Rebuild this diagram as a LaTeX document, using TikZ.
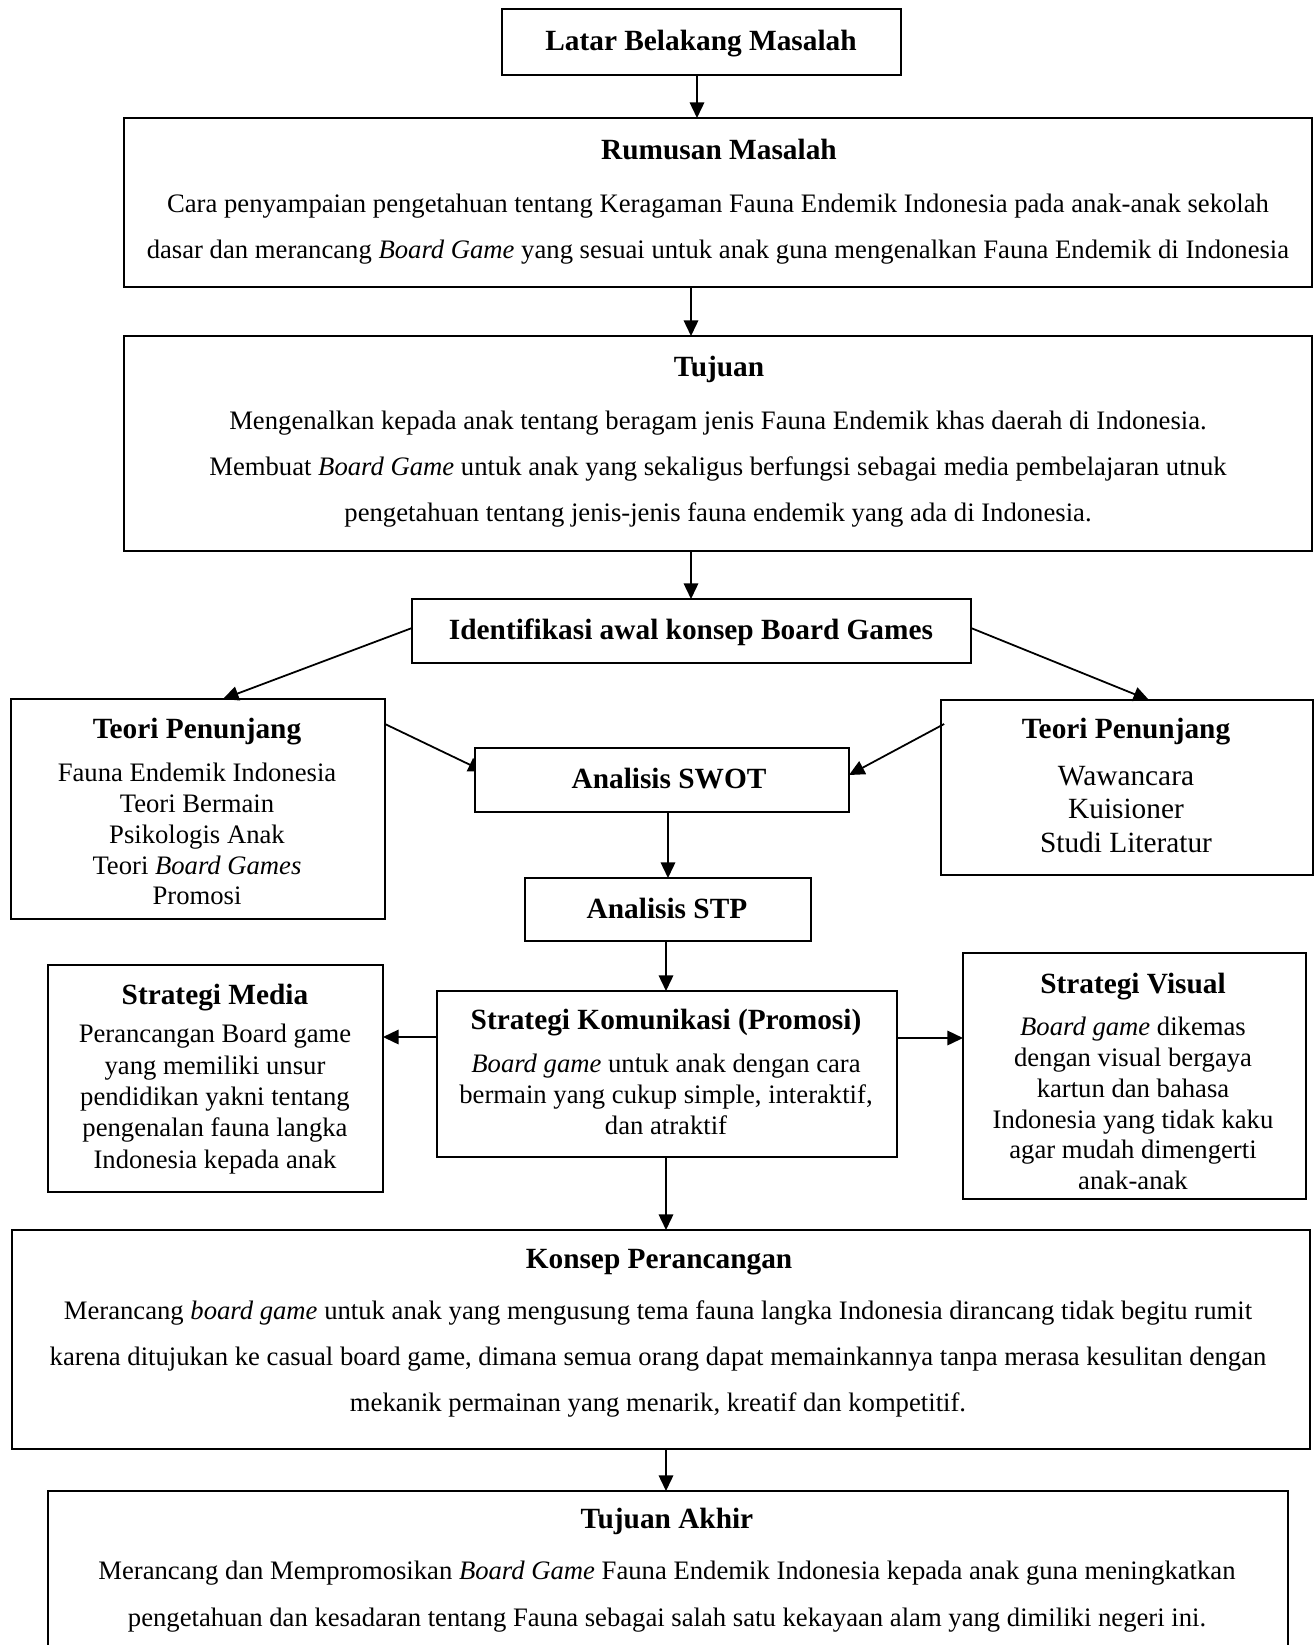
\documentclass[tikz,border=0pt]{standalone}
\usepackage{fontspec}
\setmainfont{Liberation Serif}
\usetikzlibrary{arrows.meta,backgrounds}
\newcommand\mkbox[5]{\node[bx,minimum width={(#4-#2)*0.45pt},minimum height={(#5-#3)*0.45pt}] (#1) at ({(#2+#4)/2},{(#3+#5)/2}) {};}
\begin{document}
\begin{tikzpicture}[x=0.45pt,y=-0.45pt,
 bx/.style={draw,line width=1pt,fill=white,inner sep=0pt,outer sep=0pt},
 ttl/.style={font=\fontsize{13.2}{15}\bfseries\selectfont,inner sep=0pt,anchor=center,text height=0.68em,text depth=0pt,yshift=-1.1pt},
 bodywide/.style={font=\fontsize{12}{20.8}\selectfont,inner sep=0pt,align=center},
 bodytight/.style={font=\fontsize{12}{13.9}\selectfont,inner sep=0pt,align=center},
 bodybig/.style={font=\fontsize{13.2}{15.1}\selectfont,inner sep=0pt,align=center},
 arr/.style={-{Triangle[length=7pt,width=6.5pt]},line width=0.8pt}]
\useasboundingbox (0,0) rectangle (1316,1645);

% boxes
\mkbox{latar}{502}{9}{901}{75}
\mkbox{rumusan}{124}{118}{1312}{287}
\mkbox{tujuan}{124}{336}{1312}{551}
\mkbox{ident}{412}{599}{971}{663}
\mkbox{teoriL}{11}{699}{385}{919}
\mkbox{swot}{475}{748}{849}{812}
\mkbox{teoriR}{941}{700}{1313}{875}
\mkbox{stp}{525}{878}{811}{941}
\mkbox{media}{48}{965}{383}{1192}
\mkbox{kom}{437}{991}{897}{1157}
\mkbox{visual}{963}{953}{1306}{1199}
\mkbox{konsep}{12}{1230}{1310}{1449}
\mkbox{akhir}{48}{1491}{1288}{1665}

% texts
\node[ttl] (tlatar) at (701,40) {Latar Belakang Masalah};
\node[ttl] (trumusan) at (719,149) {Rumusan Masalah};
\node[bodywide] (brumusan) at (718,229.5) {Cara penyampaian pengetahuan tentang Keragaman Fauna Endemik Indonesia pada anak-anak sekolah\\dasar dan merancang \textit{Board Game} yang sesuai untuk anak guna mengenalkan Fauna Endemik di Indonesia};
\node[ttl] (ttujuan) at (719,366) {Tujuan};
\node[bodywide] (btujuan) at (718,469) {Mengenalkan kepada anak tentang beragam jenis Fauna Endemik khas daerah di Indonesia.\\Membuat \textit{Board Game} untuk anak yang sekaligus berfungsi sebagai media pembelajaran utnuk\\pengetahuan tentang jenis-jenis fauna endemik yang ada di Indonesia.};
\node[ttl] (tident) at (691,629) {Identifikasi awal konsep Board Games};
\node[ttl] (tteoriL) at (197,728) {Teori Penunjang};
\node[bodytight] (bteoriL) at (197,834) {Fauna Endemik Indonesia\\Teori Bermain\\Psikologis Anak\\Teori \textit{Board Games}\\Promosi};
\node[ttl] (tswot) at (669,778) {Analisis SWOT};
\node[ttl] (tteoriR) at (1126,728) {Teori Penunjang};
\node[bodybig] (bteoriR) at (1126,809.5) {Wawancara\\Kuisioner\\Studi Literatur};
\node[ttl] (tstp) at (667,908) {Analisis STP};
\node[ttl] (tmedia) at (215,994) {Strategi Media};
\node[bodytight,font=\fontsize{12}{14.1}\selectfont] (bmedia) at (215,1099) {Perancangan Board game\\yang memiliki unsur\\pendidikan yakni tentang\\pengenalan fauna langka\\Indonesia kepada anak};
\node[ttl] (tkom) at (666,1019) {Strategi Komunikasi (Promosi)};
\node[bodytight] (bkom) at (666,1094) {\textit{Board game} untuk anak dengan cara\\bermain yang cukup simple, interaktif,\\dan atraktif};
\node[ttl] (tvisual) at (1133,983) {Strategi Visual};
\node[bodytight] (bvisual) at (1133,1103.5) {\textit{Board game} dikemas\\dengan visual bergaya\\kartun dan bahasa\\Indonesia yang tidak kaku\\agar mudah dimengerti\\anak-anak};
\node[ttl] (tkonsep) at (659,1258) {Konsep Perancangan};
\node[bodywide] (bkonsep) at (658,1359) {Merancang \textit{board game} untuk anak yang mengusung tema fauna langka Indonesia dirancang tidak begitu rumit\\karena ditujukan ke casual board game, dimana semua orang dapat memainkannya tanpa merasa kesulitan dengan\\mekanik permainan yang menarik, kreatif dan kompetitif.};
\node[ttl] (takhir) at (667,1518) {Tujuan Akhir};
\node[bodywide] (bakhir) at (667,1596.5) {Merancang dan Mempromosikan \textit{Board Game} Fauna Endemik Indonesia kepada anak guna meningkatkan\\pengetahuan dan kesadaran tentang Fauna sebagai salah satu kekayaan alam yang dimiliki negeri ini.};

% helper coordinates
\coordinate (x1) at (697,0);
\coordinate (x2) at (691,0);
\coordinate (x3) at (668,0);
\coordinate (x4) at (666,0);
\coordinate (xl) at (223,0);
\coordinate (xr) at (1149,0);
\coordinate (yl) at (0,724);
\coordinate (yle) at (0,767);
\coordinate (yre) at (0,775);
\coordinate (yh) at (0,1037);
\coordinate (yv) at (0,1038);
\coordinate (ys) at (0,628);

% connectors
\draw[arr] (latar.south -| x1) -- (rumusan.north -| x1);
\draw[arr] (rumusan.south -| x2) -- (tujuan.north -| x2);
\draw[arr] (tujuan.south -| x2) -- (ident.north -| x2);
\draw[arr] (ident.west |- ys) -- (teoriL.north -| xl);
\draw[arr] (ident.east |- ys) -- (teoriR.north -| xr);
\begin{scope}[on background layer]
\draw[arr] (teoriL.east |- yl) -- ([xshift=4pt,yshift=-2pt]swot.west |- yle);
\end{scope}
\draw[arr] ([xshift=1.4pt]teoriR.west |- yl) -- (swot.east |- yre);
\draw[arr] (swot.south -| x3) -- (stp.north -| x3);
\draw[arr] (stp.south -| x4) -- (kom.north -| x4);
\draw[arr] (kom.west |- yh) -- (media.east |- yh);
\draw[arr] (kom.east |- yv) -- (visual.west |- yv);
\draw[arr] (kom.south -| x4) -- (konsep.north -| x4);
\draw[arr] (konsep.south -| x4) -- (akhir.north -| x4);
\end{tikzpicture}
\end{document}
